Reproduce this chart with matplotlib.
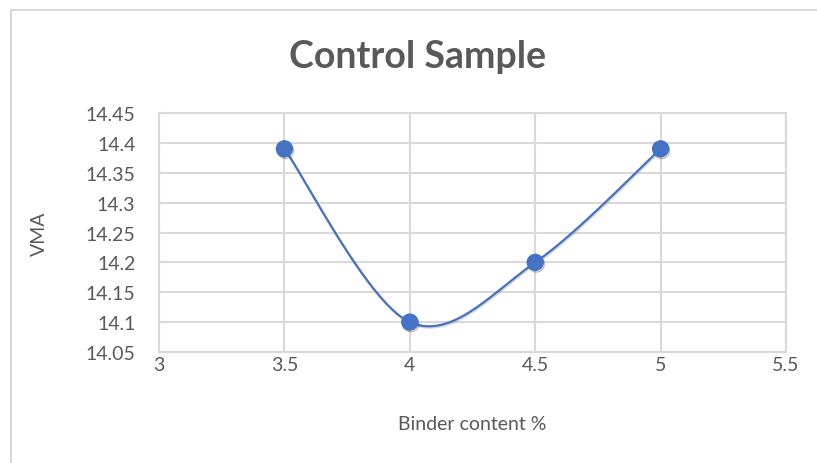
import numpy as np
import matplotlib
matplotlib.use("Agg")
import matplotlib.pyplot as plt
from matplotlib.patches import Rectangle
import matplotlib.patheffects as pe

binder_content = [3.5, 4.0, 4.5, 5.0]
vma = [14.39, 14.10, 14.20, 14.39]
x_ticks = [3, 3.5, 4, 4.5, 5, 5.5]
y_ticks = [14.05, 14.1, 14.15, 14.2, 14.25, 14.3, 14.35, 14.4, 14.45]
y_tick_labels = ["14.05", "14.1", "14.15", "14.2", "14.25", "14.3", "14.35", "14.4", "14.45"]

plt.rcParams['font.family'] = ['Lato', 'DejaVu Sans']
TXT = "#595959"
GRID = "#d9d9d9"
BLUE = "#4472C4"

fig = plt.figure(figsize=(8.17, 4.64), dpi=100)
fig.patch.set_facecolor("white")
fig.add_artist(Rectangle((11/817, -0.01), 1.2, 1 - 11/464 + 0.01, transform=fig.transFigure,
                         fill=False, edgecolor=GRID, linewidth=1.5))

ax = fig.add_axes([159/817, 1 - 353/464, (786 - 159)/817, (353 - 114)/464])
ax.set_xlim(3, 5.5)
ax.set_ylim(14.05, 14.45)
ax.set_xticks(x_ticks)
ax.set_xticklabels([f"{t:g}" for t in x_ticks])
ax.set_yticks(y_ticks)
ax.set_yticklabels(y_tick_labels)
ax.grid(True, color=GRID, linewidth=1.5)
ax.set_axisbelow(True)
for s in ax.spines.values():
    s.set_color(GRID)
    s.set_linewidth(1.5)
ax.tick_params(length=0, labelsize=14, colors=TXT)
ax.tick_params(axis='x', pad=3)
ax.tick_params(axis='y', pad=17)

# Excel-like smoothed line (cubic Bezier through points)
xs = np.array(binder_content, dtype=float)
ys = np.array(vma, dtype=float)
pts = np.column_stack([xs, ys])
n = len(pts)
t = np.linspace(0, 1, 60)[:, None]
curve = []
for i in range(n - 1):
    p0 = pts[i - 1] if i > 0 else pts[i]
    p1 = pts[i]
    p2 = pts[i + 1]
    p3 = pts[i + 2] if i + 2 < n else pts[i + 1]
    b1 = p1 + (p2 - p0) / 6.0
    b2 = p2 - (p3 - p1) / 6.0
    seg = ((1 - t) ** 3) * p1 + 3 * ((1 - t) ** 2) * t * b1 + 3 * (1 - t) * t ** 2 * b2 + t ** 3 * p2
    curve.append(seg if i == 0 else seg[1:])
curve = np.vstack(curve)
ax.plot(curve[:, 0], curve[:, 1], color=BLUE, linewidth=1.6, zorder=3,
        path_effects=[pe.SimpleLineShadow(offset=(0.6, -1.0), shadow_color="#666666", alpha=0.25), pe.Normal()])

ax.plot(xs, ys, linestyle="none", marker="o", markersize=11.5, color=BLUE,
        markeredgecolor=BLUE, zorder=4,
        path_effects=[pe.SimpleLineShadow(offset=(0.8, -1.2), shadow_color="#444444", alpha=0.35), pe.Normal()])

ax.set_xlabel("Binder content %", fontsize=14, color=TXT, labelpad=30)
ax.set_ylabel("VMA", fontsize=14, color=TXT)
ax.yaxis.set_label_coords(-0.177, 0.5)

fig.text(0.5105, 1 - 57/464, "Control Sample", ha="center", va="center",
         fontsize=27, fontweight="bold", color=TXT)

fig.savefig("out.png", dpi=100)
